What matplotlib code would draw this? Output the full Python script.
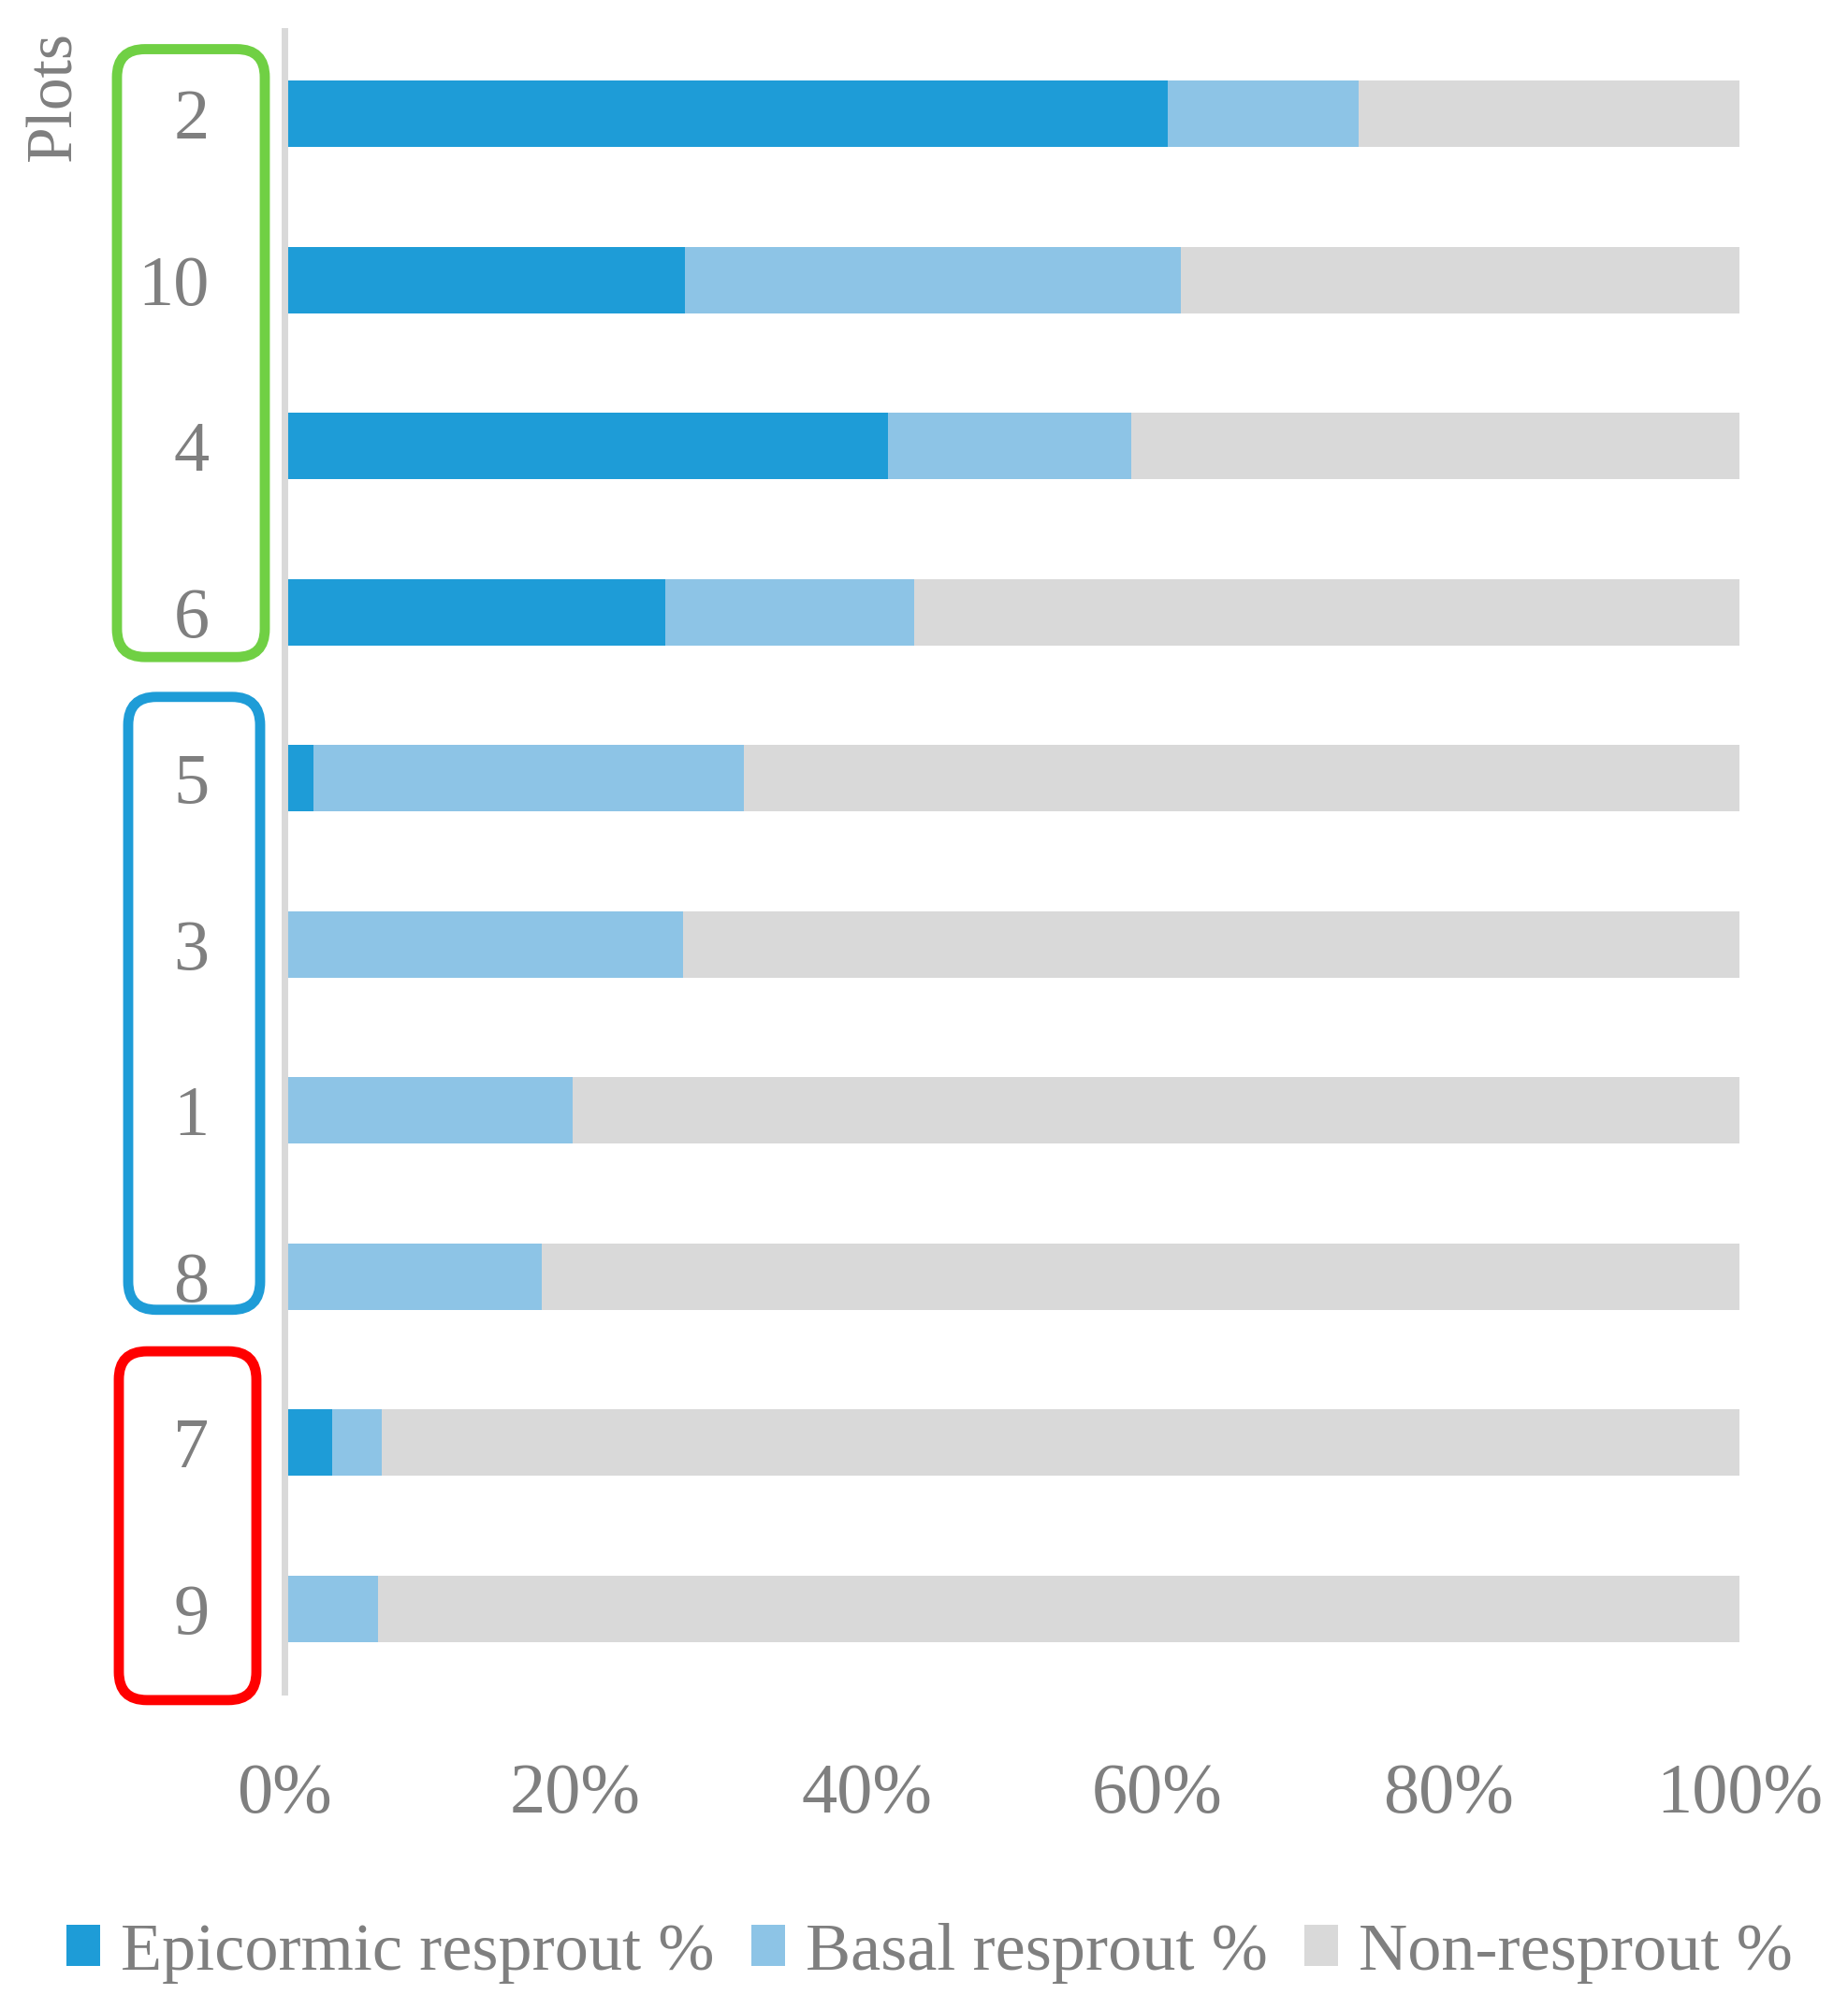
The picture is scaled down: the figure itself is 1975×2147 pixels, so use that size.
import matplotlib
matplotlib.use("Agg")
import matplotlib.pyplot as plt
from matplotlib.patches import FancyBboxPatch
from matplotlib.transforms import IdentityTransform
import matplotlib.ticker as ticker

# plots, top to bottom
PLOTS = ["2", "10", "4", "6", "5", "3", "1", "8", "7", "9"]
EPICORMIC = [60.7, 27.5, 41.5, 26.2, 2.0, 0.0, 0.0, 0.0, 3.3, 0.0]
BASAL = [13.1, 34.1, 16.7, 17.1, 29.6, 27.4, 19.8, 17.7, 3.4, 6.4]
NON = [100 - e - b for e, b in zip(EPICORMIC, BASAL)]

SERIES = ["Epicormic resprout %", "Basal resprout %", "Non-resprout %"]
COLORS = ["#1E9CD7", "#8DC4E6", "#D9D9D9"]

# plot groups outlined on the left: (colour, first row, last row)
GROUPS = [("#70D044", 0, 3), ("#1E9CD7", 4, 7), ("#FF0000", 8, 9)]

TEXT = "#7F7F7F"
FONT = ["Liberation Serif", "DejaVu Serif"]
plt.rcParams["font.family"] = FONT

W, H, DPI = 1975, 2147, 100
fig = plt.figure(figsize=(W / DPI, H / DPI), dpi=DPI)
ax = fig.add_axes([304 / W, 1 - 1808 / H, (1859 - 304) / W, (1808 - 33) / H])

ypos = list(range(len(PLOTS)))
left = [0.0] * len(PLOTS)
for name, vals, col in zip(SERIES, [EPICORMIC, BASAL, NON], COLORS):
    ax.barh(ypos, vals, left=left, height=0.4, color=col, label=name, zorder=2)
    left = [l + v for l, v in zip(left, vals)]

ax.set_xlim(0, 100)
ax.set_ylim(len(PLOTS) - 0.5, -0.5)
ax.set_yticks(ypos)
ax.set_yticklabels(PLOTS)
ax.set_xticks([0, 20, 40, 60, 80, 100])
ax.xaxis.set_major_formatter(ticker.FormatStrFormatter("%d%%"))

for s in ["top", "right", "bottom"]:
    ax.spines[s].set_visible(False)
ax.spines["left"].set_color("#D9D9D9")
ax.spines["left"].set_linewidth(5)
ax.spines["left"].set_zorder(3)

ax.tick_params(axis="both", length=0, colors=TEXT, labelsize=55)
ax.tick_params(axis="y", pad=58)
ax.tick_params(axis="x", pad=55)

fig.text(59 / W, 1 - 103 / H, "Plots", rotation=90, ha="center", va="center",
         color=TEXT, fontsize=50)

# rounded group outlines, drawn in pixel space so corners stay round
x_bounds = {"#70D044": (125, 283), "#1E9CD7": (137, 278), "#FF0000": (127, 274)}
margins = {"#70D044": (-0.39, 0.27), "#1E9CD7": (-0.49, 0.2), "#FF0000": (-0.55, 0.55)}
for col, first, last in GROUPS:
    x0, x1 = x_bounds[col]
    m0, m1 = margins[col]
    _, ytop = ax.transData.transform((0, first + m0))
    _, ybot = ax.transData.transform((0, last + m1))
    box = FancyBboxPatch((x0, ybot), x1 - x0, ytop - ybot,
                         boxstyle="round,pad=0,rounding_size=30",
                         transform=IdentityTransform(), fill=False,
                         edgecolor=col, linewidth=7.8, zorder=5)
    fig.patches.append(box)

leg = fig.legend(loc="center", bbox_to_anchor=(0.503, 1 - 2087 / H), ncol=3,
                 frameon=False, fontsize=52, handlelength=0.5, handleheight=0.55,
                 handletextpad=0.3, columnspacing=0.55, borderaxespad=0)
for t in leg.get_texts():
    t.set_color(TEXT)

fig.savefig("out.png", dpi=DPI)
